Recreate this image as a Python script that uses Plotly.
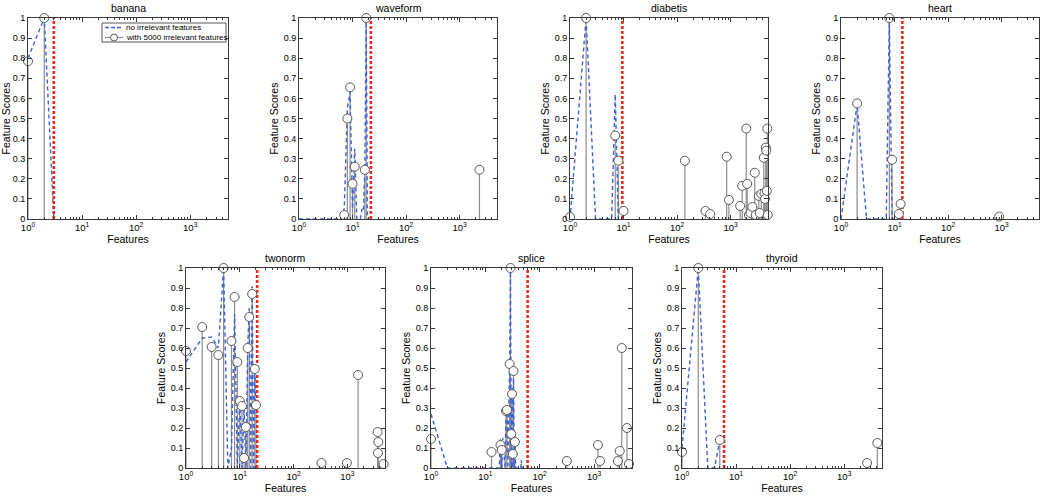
import plotly.graph_objects as go

# ---------------- data ----------------
titles = ["banana", "waveform", "diabetis", "heart", "twonorm", "splice", "thyroid"]
legend_names = ["no irrelevant features", "with 5000 irrelevant features"]
xtick_vals = [1, 10, 100, 1000]
xtick_text = ["10<sup>0</sup>", "10<sup>1</sup>", "10<sup>2</sup>", "10<sup>3</sup>"]

banana_blue_x = [1, 2, 3]
banana_blue_y = [0.80, 1.0, 0.0]
banana_stem_x = [1, 2]
banana_stem_y = [0.785, 1.0]
banana_red = 3

waveform_blue_x = [1, 6, 7, 8, 9, 10, 11, 12, 14, 15, 16, 17, 18, 19, 21]
waveform_blue_y = [0, 0, 0.05, 0.55, 0.63, 0.05, 0.35, 0, 0, 0.05, 0.04, 0.25, 1.0, 0, 0]
waveform_stem_x = [7, 8, 9, 10, 11, 17, 18, 2350]
waveform_stem_y = [0.02, 0.50, 0.655, 0.175, 0.26, 0.245, 1.0, 0.245]
waveform_red = 22

diabetis_blue_x = [1, 2, 3, 6, 7, 8]
diabetis_blue_y = [0, 1.0, 0, 0, 0.62, 0]
diabetis_stem_x = [1, 2, 7, 8, 10, 140, 340, 415, 845, 930, 1510, 1650, 1960, 2040, 2200,
                   2350, 2550, 2830, 2950, 3370, 3500, 3750, 4170, 4300, 4400, 4550, 4650,
                   4750, 4850, 4950]
diabetis_stem_y = [0.01, 1.0, 0.415, 0.29, 0.04, 0.29, 0.04, 0.025, 0.31, 0.095, 0.065, 0.165,
                   0.45, 0.175, 0.02, 0.03, 0.06, 0.23, 0.02, 0.115, 0.03, 0.125, 0.305, 0.13,
                   0.1, 0.355, 0.34, 0.14, 0.45, 0.02]
diabetis_red = 9.5

heart_blue_x = [1, 2, 3, 7, 8, 9, 13]
heart_blue_y = [0, 0.57, 0, 0, 1.0, 0, 0]
heart_stem_x = [2, 8, 9, 12, 13, 900]
heart_stem_y = [0.575, 1.0, 0.295, 0.025, 0.075, 0.012]
heart_red = 14

twonorm_blue_x = [1, 2, 3, 4, 5, 6, 7, 8, 9, 10, 11, 12, 13, 14, 15, 16, 17, 18, 19, 20]
twonorm_blue_y = [0.53, 0.65, 0.655, 0.6, 1.0, 0.0, 0.1, 0.77, 0.0, 0.35, 0.0, 0.3, 0.0, 0.6,
                  0.8, 0.0, 0.91, 0.0, 0.5, 0.3]
twonorm_stem_x = [1, 2, 3, 4, 5, 7, 8, 9, 10, 11, 12, 13, 14, 15, 17, 19, 20, 330, 980, 1580,
                  3640, 3750, 3700, 4700]
twonorm_stem_y = [0.585, 0.705, 0.605, 0.565, 1.0, 0.635, 0.855, 0.53, 0.335, 0.31, 0.05,
                  0.205, 0.6, 0.755, 0.87, 0.495, 0.315, 0.025, 0.025, 0.465, 0.18, 0.13,
                  0.075, 0.02]
twonorm_red = 21

splice_blue_x = [1, 2, 18, 19, 20, 21, 23, 24, 25, 26, 27, 28, 29, 30, 31, 32, 33, 34, 35,
                 36, 45, 46, 47, 60]
splice_blue_y = [0.27, 0, 0, 0.15, 0.0, 0.15, 0, 0.28, 0.3, 0, 0.3, 0.5, 1.0, 0, 0.4, 0,
                 0.45, 0, 0.17, 0, 0, 0.04, 0, 0]
splice_stem_x = [1, 13, 19, 20, 24, 25, 28, 29, 30, 31, 32, 33, 35, 316, 1180, 1290, 2740,
                 2970, 3240, 4040, 4400]
splice_stem_y = [0.145, 0.08, 0.115, 0.09, 0.285, 0.29, 0.52, 1.0, 0.17, 0.37, 0.07, 0.485,
                 0.13, 0.035, 0.115, 0.035, 0.035, 0.085, 0.6, 0.2, 0.02]
splice_red = 60

thyroid_blue_x = [1, 2, 3, 4, 5]
thyroid_blue_y = [0.1, 1.0, 0, 0, 0.14]
thyroid_stem_x = [1, 2, 5, 2650, 4100]
thyroid_stem_y = [0.08, 1.0, 0.14, 0.025, 0.125]
thyroid_red = 6

panels = [
    (banana_blue_x, banana_blue_y, banana_stem_x, banana_stem_y, banana_red),
    (waveform_blue_x, waveform_blue_y, waveform_stem_x, waveform_stem_y, waveform_red),
    (diabetis_blue_x, diabetis_blue_y, diabetis_stem_x, diabetis_stem_y, diabetis_red),
    (heart_blue_x, heart_blue_y, heart_stem_x, heart_stem_y, heart_red),
    (twonorm_blue_x, twonorm_blue_y, twonorm_stem_x, twonorm_stem_y, twonorm_red),
    (splice_blue_x, splice_blue_y, splice_stem_x, splice_stem_y, splice_red),
    (thyroid_blue_x, thyroid_blue_y, thyroid_stem_x, thyroid_stem_y, thyroid_red),
]

# ---------------- layout (pixel boxes of the plot areas) ----------------
W, H = 1050, 496
px_x = [(28, 228), (299, 497), (570, 768), (841, 1039), (186, 385), (431, 632), (682, 882)]
px_y = [(18, 219)] * 4 + [(268, 468)] * 3

FONT = "Liberation Sans, Arial, sans-serif"
BLUE = "#3f63d6"
RED = "#ee2b1b"
STEM = "#8c8c8c"
FRAME = "#3a3a3a"
CIRC = "#5a5a5a"


def px(x):
    return x / W


def py(y):
    return 1 - y / H


fig = go.Figure()
layout = dict(
    width=W, height=H, margin=dict(l=0, r=0, t=0, b=0, autoexpand=False),
    paper_bgcolor="white", plot_bgcolor="white",
    font=dict(family=FONT, size=9, color="black"),
    showlegend=False,
)
annotations = []
shapes = []

for i, (bx, by, sx, sy, rx) in enumerate(panels):
    n = i + 1
    xa = "x" if n == 1 else f"x{n}"
    ya = "y" if n == 1 else f"y{n}"
    (x0, x1), (y0, y1) = px_x[i], px_y[i]
    dx = [px(x0), px(x1)]
    dy = [py(y1), py(y0)]

    # stems
    stx, sty = [], []
    for a, b in zip(sx, sy):
        stx += [a, a, None]
        sty += [0, b, None]
    fig.add_trace(go.Scatter(x=stx, y=sty, mode="lines", xaxis=xa, yaxis=ya,
                             line=dict(color=STEM, width=1.2), hoverinfo="skip",
                             name=legend_names[1]))
    # blue dashed: no irrelevant features
    fig.add_trace(go.Scatter(x=bx, y=by, mode="lines", xaxis=xa, yaxis=ya,
                             line=dict(color=BLUE, width=1.4, dash="4px,3px"),
                             name=legend_names[0]))
    # red dashed threshold
    fig.add_trace(go.Scatter(x=[rx, rx], y=[0, 1], mode="lines", xaxis=xa, yaxis=ya,
                             line=dict(color=RED, width=2.6, dash="3px,2px"),
                             hoverinfo="skip"))
    # circles
    fig.add_trace(go.Scatter(x=sx, y=sy, mode="markers", xaxis=xa, yaxis=ya,
                             marker=dict(symbol="circle", size=9, color="white",
                                         line=dict(color=CIRC, width=1)),
                             cliponaxis=False, name=legend_names[1]))

    xkey = "xaxis" if n == 1 else f"xaxis{n}"
    ykey = "yaxis" if n == 1 else f"yaxis{n}"
    layout[xkey] = dict(
        type="log", range=[0, 3.699], domain=dx, anchor=ya, automargin=False,
        tickvals=xtick_vals, ticktext=xtick_text,
        ticks="inside", ticklen=4, tickcolor=FRAME,
        minor=dict(ticks="inside", ticklen=2, dtick="D1", tickcolor=FRAME, showgrid=False),
        showline=True, linecolor=FRAME, linewidth=1, mirror="ticks",
        showgrid=False, zeroline=False, tickfont=dict(size=9.5),
        title=dict(text="Features", font=dict(size=10.5), standoff=1),
    )
    layout[ykey] = dict(
        range=[0, 1], domain=dy, anchor=xa, tick0=0, dtick=0.1, automargin=False,
        ticks="inside", ticklen=4, tickcolor=FRAME,
        showline=True, linecolor=FRAME, linewidth=1, mirror="ticks",
        showgrid=False, zeroline=False, tickfont=dict(size=9),
        title=dict(text="Feature Scores", font=dict(size=10.5), standoff=3),
    )
    annotations.append(dict(text=titles[i], xref="paper", yref="paper",
                            x=(dx[0] + dx[1]) / 2, y=dy[1] + 2 / H,
                            xanchor="center", yanchor="bottom", showarrow=False,
                            font=dict(size=10.5, family=FONT)))

# ---------------- legend box inside the banana panel ----------------
shapes.append(dict(type="rect", xref="paper", yref="paper",
                   x0=px(102), x1=px(226), y0=py(42), y1=py(23),
                   line=dict(color="#555", width=1), fillcolor="white", layer="above"))
shapes.append(dict(type="line", xref="paper", yref="paper",
                   x0=px(105), x1=px(123), y0=py(27.5), y1=py(27.5),
                   line=dict(color=BLUE, width=1.4, dash="4px,2px"), layer="above"))
shapes.append(dict(type="line", xref="paper", yref="paper",
                   x0=px(105), x1=px(123), y0=py(37.5), y1=py(37.5),
                   line=dict(color=STEM, width=1.2), layer="above"))
shapes.append(dict(type="circle", xref="paper", yref="paper",
                   x0=px(110.5), x1=px(117.5), y0=py(41), y1=py(34),
                   line=dict(color=CIRC, width=1), fillcolor="white", layer="above"))
for k, label in enumerate(legend_names):
    annotations.append(dict(text=label, xref="paper", yref="paper",
                            x=px(124), y=py(27.5 + 10 * k), xanchor="left",
                            yanchor="middle", showarrow=False,
                            font=dict(size=8, family=FONT)))

layout["annotations"] = annotations
layout["shapes"] = shapes
fig.update_layout(**layout)
fig.write_html("out.html", config={"displayModeBar": False},
               post_script="document.body.style.margin='0px';")
